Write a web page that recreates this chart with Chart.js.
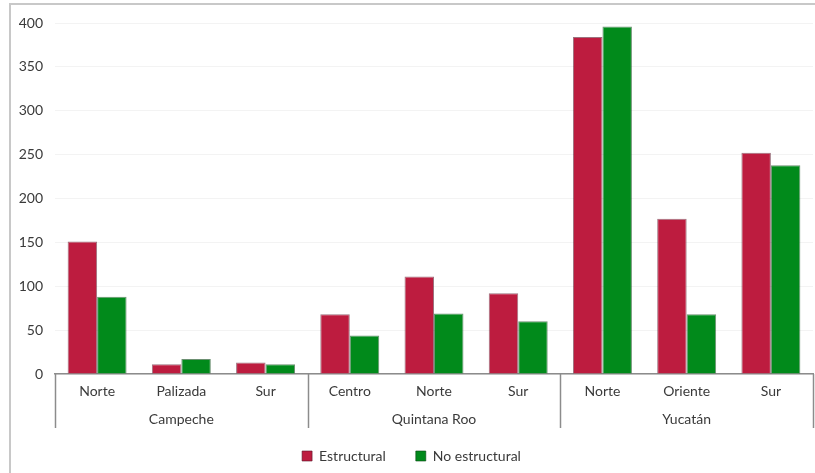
<!DOCTYPE html>
<html>
<head>
<meta charset="utf-8">
<script src="https://cdn.jsdelivr.net/npm/chart.js@4"></script>
<style>
  body { margin: 0; background: #fff; }
  #frame { position: absolute; left: 9px; top: 3px; width: 830px; height: 490px; border: 2px solid #c8c8c8; box-sizing: border-box; }
  #wrap { position: absolute; left: 0; top: 0; width: 815px; height: 473px; }
</style>
</head>
<body>
<div id="frame"></div>
<div id="wrap"><canvas id="chart"></canvas></div>
<script>
const categories = ['Norte', 'Palizada', 'Sur', 'Centro', 'Norte', 'Sur', 'Norte', 'Oriente', 'Sur'];
const groups = ['Campeche', 'Quintana Roo', 'Yucatán'];
const groupSizes = [3, 3, 3];
const estructural = [151, 11, 13, 68, 111, 92, 384, 177, 252];
const noEstructural = [88, 17, 11, 44, 69, 60, 396, 68, 238];
const yTicks = [0, 50, 100, 150, 200, 250, 300, 350, 400];

const textColor = '#3a3a3a';
const fontFamily = 'Lato, sans-serif';
const fontSize = 14;

// group labels and separator lines under the category axis
const groupAxis = {
  id: 'groupAxis',
  afterDraw(chart) {
    const ctx = chart.ctx;
    const x = chart.scales.x;
    const y0 = x.top;
    const y1 = y0 + 54;
    let start = 0;
    const edges = [chart.chartArea.left];
    ctx.save();
    ctx.font = fontSize + 'px ' + fontFamily;
    ctx.fillStyle = textColor;
    ctx.textAlign = 'center';
    ctx.textBaseline = 'middle';
    groups.forEach((g, i) => {
      const end = start + groupSizes[i] - 1;
      const mid = (x.getPixelForValue(start) + x.getPixelForValue(end)) / 2;
      ctx.fillText(g, mid, y0 + 45);
      if (i < groups.length - 1) {
        edges.push((x.getPixelForValue(end) + x.getPixelForValue(end + 1)) / 2);
      }
      start = end + 1;
    });
    edges.push(chart.chartArea.right);
    ctx.strokeStyle = '#8c8c8c';
    ctx.lineWidth = 1.5;
    edges.forEach(e => {
      ctx.beginPath();
      ctx.moveTo(Math.round(e) + 0.5, y0);
      ctx.lineTo(Math.round(e) + 0.5, y1);
      ctx.stroke();
    });
    ctx.restore();
  }
};

new Chart(document.getElementById('chart'), {
  type: 'bar',
  plugins: [groupAxis],
  data: {
    labels: categories,
    datasets: [{
      label: 'Estructural',
      data: estructural,
      backgroundColor: '#BD1C3F',
      borderColor: 'rgba(90,20,40,0.6)',
      borderWidth: 1,
    }, {
      label: 'No estructural',
      data: noEstructural,
      backgroundColor: '#018A1B',
      borderColor: 'rgba(10,70,20,0.6)',
      borderWidth: 1,
    }]
  },
  options: {
    responsive: true,
    maintainAspectRatio: false,
    animation: false,
    layout: {
      padding: { left: 10, right: 2, top: 23, bottom: 0 }
    },
    datasets: {
      bar: { categoryPercentage: 0.7, barPercentage: 1.0 }
    },
    plugins: {
      legend: {
        position: 'bottom',
        labels: {
          boxWidth: 10,
          boxHeight: 10,
          padding: 30,
          color: textColor,
          font: { family: fontFamily, size: fontSize }
        }
      },
      tooltip: { enabled: false }
    },
    scales: {
      x: {
        border: { display: true, color: '#8c8c8c', width: 1.5 },
        grid: { display: false },
        ticks: {
          color: textColor,
          padding: 1,
          font: { family: fontFamily, size: fontSize }
        },
        afterFit(scale) { scale.height = 45; }
      },
      y: {
        min: 0,
        max: 400,
        border: { display: false },
        grid: { color: '#f3f3f3', drawTicks: false },
        afterBuildTicks(scale) { scale.ticks = yTicks.map(v => ({ value: v })); },
        ticks: {
          color: textColor,
          padding: 12,
          font: { family: fontFamily, size: fontSize }
        },
        afterFit(scale) { scale.width = 45; }
      }
    }
  }
});
</script>
</body>
</html>
